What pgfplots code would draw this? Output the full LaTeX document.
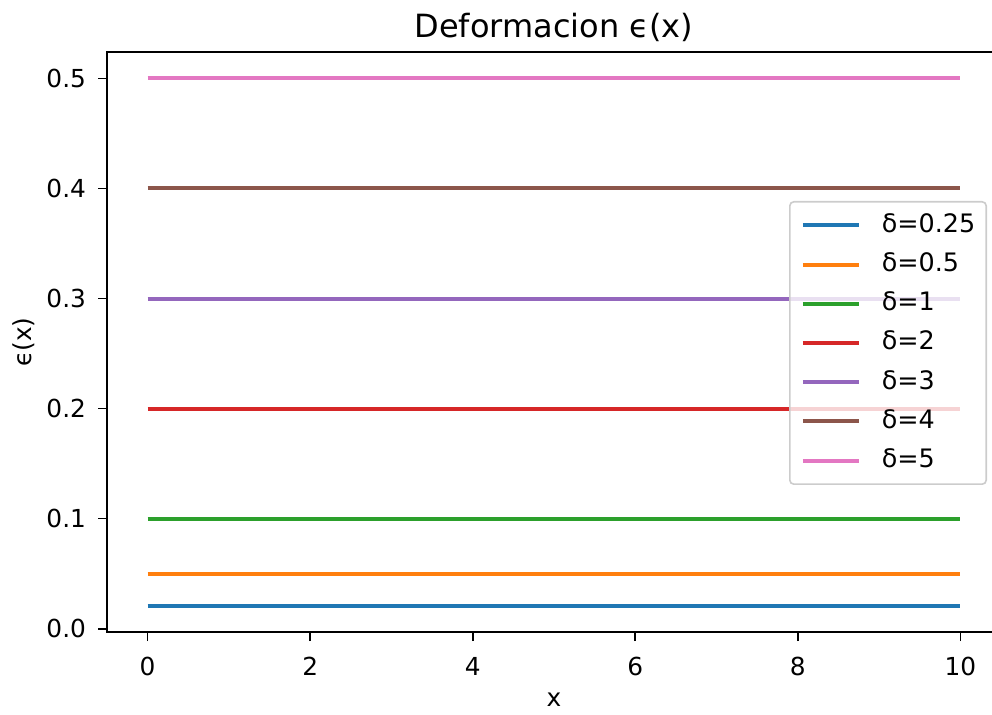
\documentclass[border=0pt]{standalone}
\usepackage{pgfplots}
\pgfplotsset{compat=1.18}
\usepackage{fontspec}
\setmainfont{DejaVu Sans}
\usetikzlibrary{calc}

\definecolor{tabblue}{HTML}{1F77B4}
\definecolor{taborange}{HTML}{FF7F0E}
\definecolor{tabgreen}{HTML}{2CA02C}
\definecolor{tabred}{HTML}{D62728}
\definecolor{tabpurple}{HTML}{9467BD}
\definecolor{tabbrown}{HTML}{8C564B}
\definecolor{tabpink}{HTML}{E377C2}

\begin{document}
\begin{tikzpicture}
\begin{axis}[
  scale only axis,
  width=447pt, height=290pt,
  xmin=-0.5, xmax=10.5,
  ymin=-0.003, ymax=0.524,
  xtick={0,2,4,6,8,10},
  ytick={0,0.1,0.2,0.3,0.4,0.5},
  tick align=outside,
  major tick length=4.5pt,
  every tick/.style={black, line width=0.8pt},
  axis line style={line width=0.8pt},
  xtick pos=bottom, ytick pos=left,
  font=\fontsize{12.4}{14.9}\selectfont,
  /pgf/number format/assume math mode=true,
  yticklabel style={/pgf/number format/fixed, /pgf/number format/fixed zerofill, /pgf/number format/precision=1, xshift=-2.5pt},
  xticklabel style={yshift=-4.5pt},
  every axis title shift=0pt,
  title={Deformacion ϵ(x)},
  title style={at={(axis description cs:0.5,1.043)}, anchor=center, font=\fontsize{16}{19.2}\selectfont},
  xlabel={x},
  xlabel style={at={(axis description cs:0.5,-0.117)}, anchor=center},
  ylabel={ϵ(x)},
  ylabel style={at={(axis description cs:-0.093,0.5)}, anchor=center},
  legend cell align=left,
  legend image code/.code={\draw[#1] (0pt,0pt) -- (28pt,0pt);},
  legend style={
    at={(axis description cs:1,0.5)}, anchor=east, xshift=-7pt, yshift=-0.5pt,
    fill=white, fill opacity=0.8, text opacity=1,
    draw=black!20, line width=0.8pt, rounded corners=2pt,
    inner xsep=5.5pt, inner ysep=5.8pt,
    column sep=10.5pt, row sep=7.6pt,
    nodes={inner xsep=0pt, inner ysep=0pt, text height=9.5pt, text depth=2.5pt},
    font=\fontsize{12.7}{15.2}\selectfont,
  },
  every axis plot/.append style={line width=2pt},
]
\addplot[tabblue]   coordinates {(0,0.0208) (10,0.0208)};
\addlegendentry{δ=0.25}
\addplot[taborange] coordinates {(0,0.05) (10,0.05)};
\addlegendentry{δ=0.5}
\addplot[tabgreen]  coordinates {(0,0.1) (10,0.1)};
\addlegendentry{δ=1}
\addplot[tabred]    coordinates {(0,0.2) (10,0.2)};
\addlegendentry{δ=2}
\addplot[tabpurple] coordinates {(0,0.3) (10,0.3)};
\addlegendentry{δ=3}
\addplot[tabbrown]  coordinates {(0,0.4) (10,0.4)};
\addlegendentry{δ=4}
\addplot[tabpink]   coordinates {(0,0.5) (10,0.5)};
\addlegendentry{δ=5}
\end{axis}
% the right side of the frame runs just past the page edge
\pgfresetboundingbox
\path[use as bounding box] ($(current axis.south west)+(-53.5pt,-41pt)$) rectangle ($(current axis.north east)+(-4.5pt,26pt)$);
\end{tikzpicture}
\end{document}
